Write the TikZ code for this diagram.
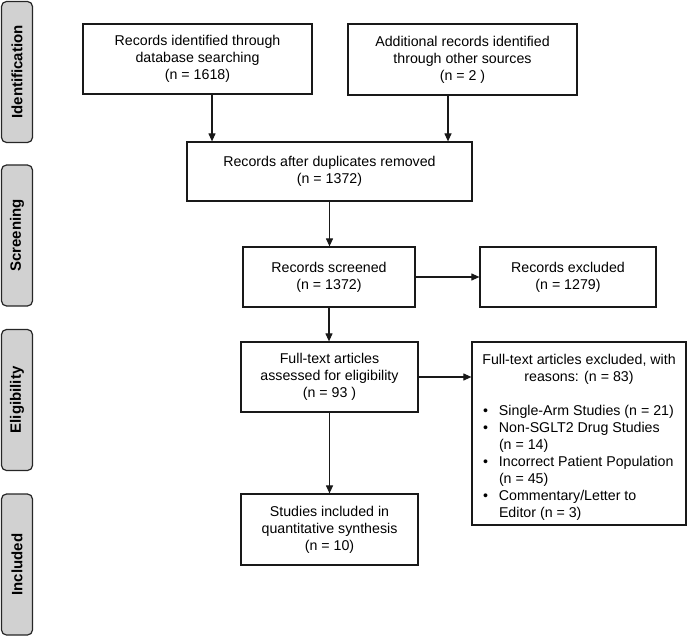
\documentclass[tikz,border=0pt]{standalone}
\usepackage{fontspec}
\setmainfont{Liberation Sans}
\usetikzlibrary{arrows.meta}
\newcommand\bulletitem[1]{\par\noindent\hangindent=27bp\hangafter=1\hspace*{11bp}\makebox[16bp][l]{\textbullet}#1\par}
\begin{document}
\begin{tikzpicture}[x=1bp,y=-1bp,
  frame/.style={draw=black!90, line width=1.2bp, inner sep=0pt,
    font=\fontsize{14.2bp}{17bp}\selectfont},
  box/.style={frame, align=center},
  phase/.style={draw=black!85, line width=1.2bp, fill=black!18, rounded corners=5bp,
    rotate=90, minimum width=141bp, minimum height=31bp, inner sep=0pt,
    font=\fontsize{15bp}{18bp}\selectfont\bfseries},
  arr/.style={draw=black!90, line width=1.1bp, -{Triangle[length=8bp,width=7bp]}}]
\useasboundingbox (0,0) rectangle (689,636);

% phase labels
\node[phase] (pid) at (17,72) {Identification};
\node[phase] (psc) at (17,235.5) {Screening};
\node[phase] (pel) at (17,400) {Eligibility};
\node[phase] (pin) at (17,564.5) {Included};

% boxes
\node[box, minimum width=229bp, minimum height=70bp] (b1) at (197.5,59)
  {Records identified through\\database searching\\(n = 1618)};
\node[box, minimum width=229bp, minimum height=71bp] (b2) at (462.5,59.5)
  {Additional records identified\\through other sources\\(n = 2 )};
\node[box, minimum width=285bp, minimum height=59bp] (b3) at (329.5,171.5)
  {Records after duplicates removed\\(n = 1372)};
\node[box, minimum width=172bp, minimum height=60bp] (b4) at (329,277)
  {Records screened\\(n = 1372)};
\node[box, minimum width=176bp, minimum height=60bp] (b5) at (568,277)
  {Records excluded\\(n = 1279)};
\node[box, minimum width=177bp, minimum height=70bp] (b6) at (329.5,377)
  {Full-text articles\\assessed for eligibility\\(n = 93 )};
\node[frame, minimum width=214bp, minimum height=183bp] (b7) at (579,433.5)
  {\parbox{214bp}{\fontsize{14.2bp}{17bp}\selectfont\raggedright
   \vspace*{8bp}{\centering Full-text articles excluded, with\\reasons: (n = 83)\par}
   \vspace{17bp}
   \bulletitem{Single-Arm Studies (n = 21)}
   \bulletitem{Non-SGLT2 Drug Studies\newline(n = 14)}
   \bulletitem{Incorrect Patient Population\newline(n = 45)}
   \bulletitem{Commentary/Letter to\newline Editor (n = 3)}}};
\node[box, minimum width=177bp, minimum height=71bp] (b8) at (329.5,529.5)
  {Studies included in\\quantitative synthesis\\(n = 10)};

% connectors
\draw[arr] ([xshift=14.5bp]b1.south) -- ([xshift=14.5bp]b1.south |- b3.north);
\draw[arr] ([xshift=-14.5bp]b2.south) -- ([xshift=-14.5bp]b2.south |- b3.north);
\draw[arr] (b3.south) -- (b3.south |- b4.north);
\draw[arr] (b4.east) -- (b5.west);
\draw[arr] (b4.south) -- (b4.south |- b6.north);
\draw[arr] (b6.east) -- (b6.east -| b7.west);
\draw[arr] (b6.south) -- (b6.south |- b8.north);
\end{tikzpicture}
\end{document}
